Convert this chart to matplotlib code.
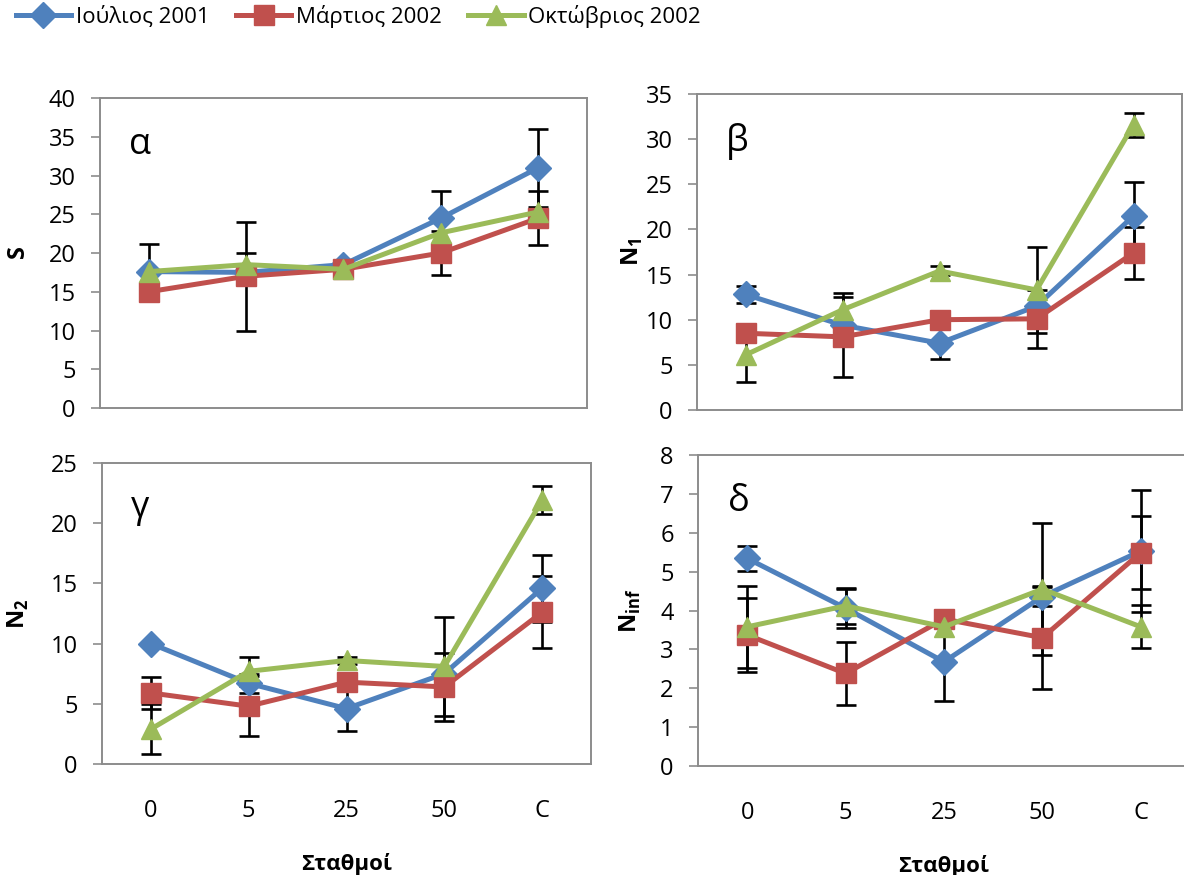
import matplotlib.pyplot as plt
import numpy as np

plt.rcParams["font.family"] = ["Open Sans", "Noto Sans", "DejaVu Sans"]
plt.rcParams["mathtext.fontset"] = "custom"
plt.rcParams["mathtext.rm"] = "Open Sans"
plt.rcParams["mathtext.bf"] = "Open Sans:bold"

STATIONS = ["0", "5", "25", "50", "C"]
SERIES = ["Ιούλιος 2001", "Μάρτιος 2002", "Οκτώβριος 2002"]

# (α) S
S_JUL = [17.6, 17.5, 18.5, 24.5, 31.0]
S_MAR = [15.0, 17.0, 17.9, 20.0, 24.5]
S_OCT = [17.6, 18.5, 17.9, 22.6, 25.3]
S_JUL_ERR = [3.5, 0.0, 0.0, 3.5, 5.0]
S_MAR_ERR = [0.0, 7.0, 0.0, 2.9, 3.5]
S_OCT_ERR = [0.0, 1.5, 0.0, 0.0, 0.0]

# (β) N1
N1_JUL = [12.8, 9.4, 7.4, 11.5, 21.5]
N1_MAR = [8.5, 8.1, 10.0, 10.1, 17.4]
N1_OCT = [6.1, 11.1, 15.4, 13.3, 31.6]
N1_JUL_ERR = [0.9, 0.0, 1.8, 0.0, 3.8]
N1_MAR_ERR = [0.0, 4.4, 0.0, 3.2, 2.9]
N1_OCT_ERR = [3.0, 1.9, 0.5, 4.8, 1.35]

# (γ) N2
N2_JUL = [10.0, 6.7, 4.6, 7.5, 14.6]
N2_MAR = [5.9, 4.8, 6.8, 6.4, 12.6]
N2_OCT = [2.9, 7.7, 8.6, 8.1, 21.9]
N2_JUL_ERR = [0.0, 0.8, 1.9, 0.0, 2.8]
N2_MAR_ERR = [1.3, 2.5, 0.0, 2.8, 3.0]
N2_OCT_ERR = [2.1, 1.2, 0.3, 4.1, 1.15]

# (δ) Ninf
NINF_JUL = [5.34, 4.06, 2.68, 4.36, 5.53]
NINF_MAR = [3.37, 2.38, 3.78, 3.30, 5.49]
NINF_OCT = [3.58, 4.12, 3.58, 4.55, 3.58]
NINF_JUL_ERR = [0.33, 0.5, 1.0, 0.24, 1.57]
NINF_MAR_ERR = [0.96, 0.82, 0.0, 1.32, 0.93]
NINF_OCT_ERR = [1.05, 0.47, 0.0, 1.7, 0.55]

COLORS = ["#4F81BD", "#C0504D", "#9BBB59"]
MARKERS = ["D", "s", "^"]
MSIZES = [13, 14, 15]
SPINE = "#8C8C8C"

W, H = 1184, 875
fig = plt.figure(figsize=(W / 100, H / 100), dpi=100)


def px_axes(left, top, right, bottom):
    return fig.add_axes([left / W, 1 - bottom / H, (right - left) / W, (bottom - top) / H])


panels = [
    (px_axes(100, 98, 587, 408), "α", r"$\mathbf{S}$", 40, 5,
     (S_JUL, S_MAR, S_OCT), (S_JUL_ERR, S_MAR_ERR, S_OCT_ERR), False, -0.142),
    (px_axes(697, 94, 1182, 410), "β", r"$\mathbf{N}_{\mathbf{1}}$", 35, 5,
     (N1_JUL, N1_MAR, N1_OCT), (N1_JUL_ERR, N1_MAR_ERR, N1_OCT_ERR), False, -0.108),
    (px_axes(102, 463, 591, 764), "γ", r"$\mathbf{N}_{\mathbf{2}}$", 25, 5,
     (N2_JUL, N2_MAR, N2_OCT), (N2_JUL_ERR, N2_MAR_ERR, N2_OCT_ERR), True, -0.145),
    (px_axes(698, 455, 1190, 766), "δ", r"$\mathbf{N}_{\mathbf{inf}}$", 8, 1,
     (NINF_JUL, NINF_MAR, NINF_OCT), (NINF_JUL_ERR, NINF_MAR_ERR, NINF_OCT_ERR), True, -0.112),
]

x = np.arange(len(STATIONS))
for ax, letter, ylabel, ymax, ystep, values, errors, bottom_row, ylab_x in panels:
    for i, (vals, errs) in enumerate(zip(values, errors)):
        vals = np.asarray(vals)
        errs = np.asarray(errs)
        keep = errs > 0
        ax.errorbar(x[keep], vals[keep], yerr=errs[keep], fmt="none", ecolor="black",
                    elinewidth=1.9, capsize=7, capthick=1.9, zorder=2)
        ax.plot(x, vals, color=COLORS[i], marker=MARKERS[i], markersize=MSIZES[i],
                linewidth=3.6, label=SERIES[i], zorder=3 + i)

    ax.set_xlim(-0.5, len(STATIONS) - 0.5)
    ax.set_ylim(0, ymax)
    ax.set_yticks(np.arange(0, ymax + ystep / 2, ystep))
    ax.set_xticks(x)
    if bottom_row:
        ax.set_xticklabels(STATIONS)
        ax.tick_params(axis="x", length=0, pad=25, labelsize=17)
        ax.set_xlabel("Σταθμοί", fontsize=16, fontweight="bold", labelpad=22)
    else:
        ax.set_xticklabels([])
        ax.tick_params(axis="x", length=0)
    ax.tick_params(axis="y", direction="out", length=6.5, width=1.2, color=SPINE,
                   labelsize=17, pad=11)
    for spine in ax.spines.values():
        spine.set_color(SPINE)
        spine.set_linewidth(1.4)
    ax.set_ylabel(ylabel, fontsize=17)
    ax.yaxis.set_label_coords(ylab_x, 0.5)
    ax.text(0.06, 0.85, letter, transform=ax.transAxes, fontsize=26, va="center", ha="left")

handles, labels = panels[0][0].get_legend_handles_labels()
fig.legend(handles, labels, loc="upper left", bbox_to_anchor=(0.0, 1.012), ncol=3,
           frameon=False, fontsize=16, handlelength=2.5, handletextpad=0.2,
           columnspacing=1.2, borderaxespad=0.3)

fig.savefig("out.png", dpi=100)
